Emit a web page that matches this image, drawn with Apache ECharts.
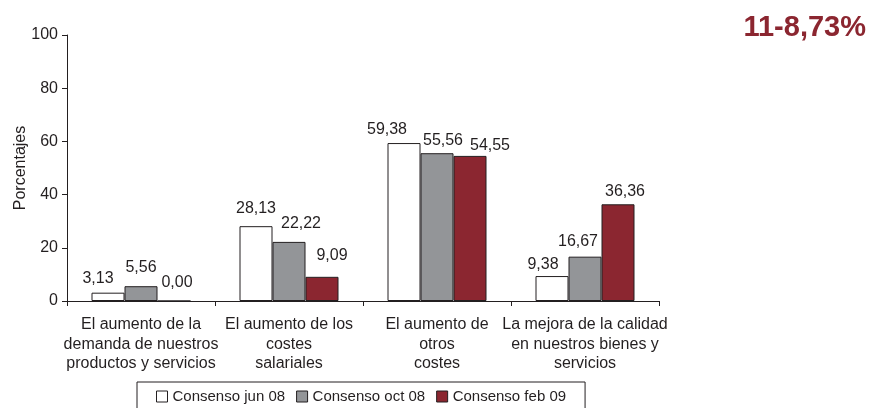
<!DOCTYPE html>
<html>
<head>
<meta charset="utf-8">
<script src="https://cdn.jsdelivr.net/npm/echarts@6/dist/echarts.min.js"></script>
<style>
  html, body { margin: 0; padding: 0; background: #ffffff; }
  #chart { width: 872px; height: 408px; }
</style>
</head>
<body>
<div id="chart"></div>
<script>
// Motivos de subida de precios, porcentaje de respuestas por consenso
const categories = [
  'El aumento de la\ndemanda de nuestros\nproductos y servicios',
  'El aumento de los\ncostes\nsalariales',
  'El aumento de\notros\ncostes',
  'La mejora de la calidad\nen nuestros bienes y\nservicios'
];
const seriesNames = ['Consenso jun 08', 'Consenso oct 08', 'Consenso feb 09'];
const consensoJun08 = [3.13, 28.13, 59.38, 9.38];
const consensoOct08 = [5.56, 22.22, 55.56, 16.67];
const consensoFeb09 = [0.00, 9.09, 54.55, 36.36];
const yTicks = [0, 20, 40, 60, 80, 100];
const headline = '11-8,73%';

// Small nudges [dx, dy] so neighbouring value labels do not collide
const labelNudge = [
  [[-10, 1], [0, -3], [-17, 2], [-9, 4]],
  [[0, -4], [12, -3], [6, 2], [-7, 0]],
  [[3, -3], [10, -6], [20, 5], [7, 2]]
];

const ink = '#231f20';
const fills = ['#ffffff', '#939598', '#8b2630'];
const values = [consensoJun08, consensoOct08, consensoFeb09];

const fmt = v => v.toFixed(2).replace('.', ',');

const series = values.map((vals, s) => ({
  name: seriesNames[s],
  type: 'bar',
  barWidth: 33,
  barGap: '0%',
  itemStyle: { color: fills[s], borderColor: ink, borderWidth: 1 },
  data: vals.map((v, i) => ({
    value: v,
    label: { offset: labelNudge[s][i] }
  })),
  label: {
    show: true,
    position: 'top',
    distance: 7,
    color: ink,
    fontFamily: 'Liberation Sans, Arial, sans-serif',
    fontSize: 16,
    formatter: p => fmt(p.value)
  }
}));

const chart = echarts.init(document.getElementById('chart'), null, { renderer: 'canvas' });
chart.setOption({
  animation: false,
  backgroundColor: '#ffffff',
  textStyle: { fontFamily: 'Liberation Sans, Arial, sans-serif', color: ink },
  title: {
    text: headline,
    right: 6,
    top: 13,
    padding: 0,
    textStyle: { color: '#8b2630', fontSize: 29, fontWeight: 'bold', fontFamily: 'Liberation Sans, Arial, sans-serif' }
  },
  grid: { left: 67, right: 213, top: 35, bottom: 107, containLabel: false },
  legend: {
    data: seriesNames,
    left: 137,
    top: 382,
    orient: 'horizontal',
    padding: [7, 19, 10, 19],
    borderColor: ink,
    borderWidth: 1,
    itemWidth: 11,
    itemHeight: 11,
    itemGap: 11,
    icon: 'rect',
    itemStyle: { borderColor: ink, borderWidth: 1 },
    textStyle: { color: ink, fontSize: 15 }
  },
  xAxis: {
    type: 'category',
    data: categories,
    axisLine: { lineStyle: { color: ink, width: 1 } },
    axisTick: { show: true, alignWithLabel: false, length: 5, lineStyle: { color: ink } },
    axisLabel: {
      color: ink,
      fontSize: 16,
      lineHeight: 19.5,
      margin: 14,
      interval: 0,
      align: 'center'
    }
  },
  yAxis: {
    type: 'value',
    min: yTicks[0],
    max: yTicks[yTicks.length - 1],
    interval: yTicks[1] - yTicks[0],
    name: 'Porcentajes',
    nameLocation: 'middle',
    nameGap: 38,
    nameMoveOverlap: false,
    nameTextStyle: { color: ink, fontSize: 16 },
    axisLine: { show: true, lineStyle: { color: ink, width: 1 } },
    axisTick: { show: true, length: 5, lineStyle: { color: ink } },
    axisLabel: { color: ink, fontSize: 16, margin: 9 },
    splitLine: { show: false }
  },
  series: series
});
</script>
</body>
</html>
